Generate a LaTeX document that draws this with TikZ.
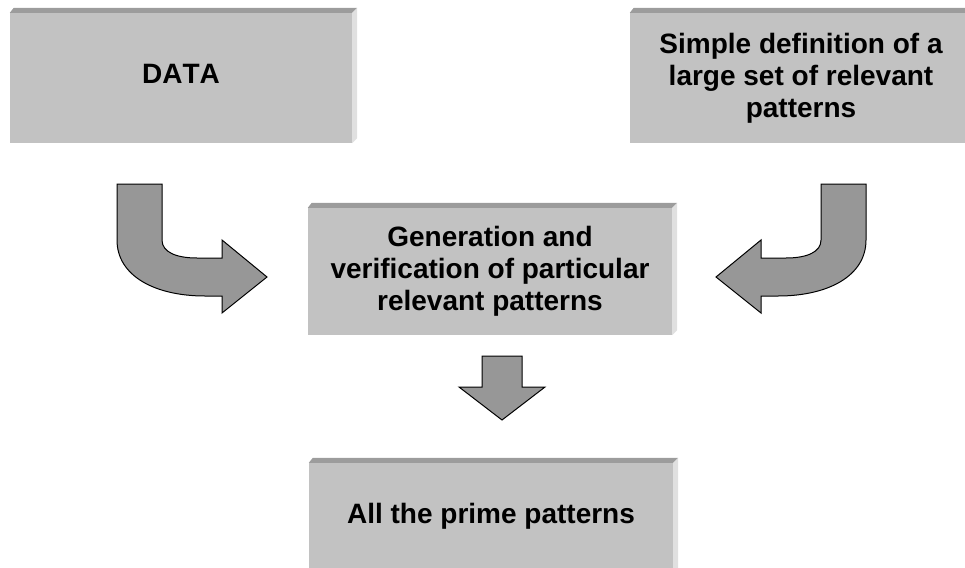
\documentclass[tikz,border=0pt]{standalone}
\usepackage{fontspec}
\setmainfont{Liberation Sans}[Kerning=Off]
\usetikzlibrary{positioning}

\definecolor{boxgray}{HTML}{C2C2C2}
\definecolor{topgray}{HTML}{9C9C9C}
\definecolor{sidegray}{HTML}{E0E0E0}
\definecolor{arrgray}{HTML}{979797}

\begin{document}
\begin{tikzpicture}[x=1pt, y=-1pt,
        box/.style={rectangle, fill=boxgray, inner sep=0pt, align=center,
                    font=\fontsize{28}{32}\selectfont\bfseries},
        topface/.style={fill=topgray},
        sideface/.style={fill=sidegray},
        blockarr/.style={fill=arrgray, draw=black, line width=1pt, line join=miter}]
      \useasboundingbox (0,0) rectangle (965,567);
      \node[box, minimum width=342, minimum height=130, text depth=8pt] (data) at (181,78) {DATA};
      \node[box, minimum width=342, minimum height=130] (defn) at (801,78)
            {Simple definition of a\\large set of relevant\\patterns};
      \node[box, minimum width=364, minimum height=127] (gen) at (490,271.5)
            {Generation and\\verification of particular\\relevant patterns};
      \node[box, minimum width=364, minimum height=127, text depth=27pt] (prime) at (491,526.5)
            {All the prime patterns};
      % bevelled top and right faces
      \foreach \n in {data,defn,gen,prime} {
        \fill[topface] (\n.north west) -- ++(4,-5) -- ([shift={(5,-5)}]\n.north east)
              -- (\n.north east) -- cycle;
        \fill[sideface] (\n.north east) -- ++(5,-5) -- ([shift={(5,-5)}]\n.south east)
              -- (\n.south east) -- cycle;
      }
      % bent arrows into the middle box
      \draw[blockarr] (117,184) -- (162,184) -- (162,240)
            .. controls (162,252) and (176,258) .. (197,258)
            -- (222,258) -- (222,240) -- (267,277) -- (222,313) -- (222,296) -- (205,296)
            .. controls (155,296) and (117,276) .. (117,240) -- cycle;
      \draw[blockarr] (866,184) -- (821,184) -- (821,240)
            .. controls (821,252) and (807,258) .. (786,258)
            -- (761,258) -- (761,240) -- (716,277) -- (761,313) -- (761,296) -- (778,296)
            .. controls (828,296) and (866,276) .. (866,240) -- cycle;
      % down arrow
      \draw[blockarr] (482,356) -- (522,356) -- (522,387) -- (545,387) -- (502,420)
            -- (459,387) -- (482,387) -- cycle;
    \end{tikzpicture}
\end{document}
